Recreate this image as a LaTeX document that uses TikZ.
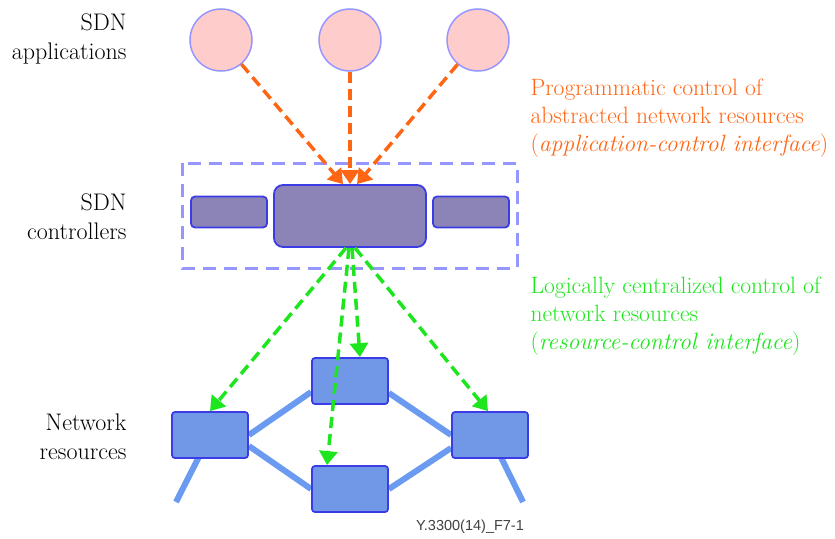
\documentclass[tikz,border=0pt]{standalone}
\usepackage{fontspec}
\newfontfamily\arialfont{Liberation Sans}
\usetikzlibrary{arrows.meta,backgrounds}

\definecolor{appfill}{RGB}{255,204,204}
\definecolor{lavender}{RGB}{150,150,255}
\definecolor{ctrlfill}{RGB}{140,132,182}
\definecolor{edgeblue}{RGB}{60,60,230}
\definecolor{resfill}{RGB}{112,152,230}
\definecolor{linkblue}{RGB}{106,155,240}
\definecolor{progorange}{RGB}{255,102,20}
\definecolor{ctrlgreen}{RGB}{30,230,30}

\begin{document}
\begin{tikzpicture}[x=1pt,y=-1pt,
  app/.style={circle, fill=appfill, draw=lavender, line width=1.5pt, minimum size=62pt, inner sep=0pt},
  ctrl/.style={rectangle, rounded corners=4pt, fill=ctrlfill, draw=edgeblue, line width=1.8pt, inner sep=0pt},
  res/.style={rectangle, rounded corners=3pt, fill=resfill, draw=edgeblue, line width=1.8pt, minimum width=76pt, minimum height=46pt, inner sep=0pt},
  link/.style={linkblue, line width=6pt},
  orangearrow/.style={progorange, line width=3.5pt, dash pattern=on 11pt off 6pt, -{Triangle[length=14pt,width=18pt]}},
  greenarrow/.style={ctrlgreen, line width=3.5pt, dash pattern=on 11pt off 6pt, -{Triangle[length=14pt,width=18pt]}},
  layer/.style={align=right, anchor=east, font=\rmfamily\fontsize{24}{29}\selectfont},
  note/.style={align=left, anchor=west, font=\rmfamily\fontsize{23.6}{28}\selectfont}]
 \useasboundingbox (0,0) rectangle (835,538);

 % layer labels
 \node (lapp) [layer] at (130,39) {SDN\\applications};
 \node (lctrl) [layer] at (130,217) {SDN\\controllers};
 \node (lres) [layer] at (130,437) {Network\\resources};

 % applications
 \node (a1) [app] at (221,40) {};
 \node (a2) [app] at (350,40) {};
 \node (a3) [app] at (478,40) {};

 % controllers
 \draw[lavender, line width=3pt, dash pattern=on 13pt off 8pt] (182,163) rectangle (517,268);
 \node (c0) [ctrl, rounded corners=9pt, minimum width=152pt, minimum height=62pt] at (350,216) {};
 \node (c1) [ctrl, minimum width=76pt, minimum height=31pt] at (229,212) {};
 \node (c2) [ctrl, minimum width=76pt, minimum height=31pt] at (471,212) {};

 % network resources
 \node (r1) [res] at (210,435) {};
 \node (r2) [res] at (350,381) {};
 \node (r3) [res] at (350,489) {};
 \node (r4) [res] at (490,435) {};
 \coordinate (tl) at (176,502);
 \coordinate (tr) at (523,502);
 \begin{scope}[on background layer]
   \draw[link] (r1.center) -- (tl);
   \draw[link] (r4.center) -- (tr);
   \draw[link] (r1.east) -- ([yshift=-11pt]r2.west);
   \draw[link] ([yshift=-11pt]r1.east) -- (r3.west);
   \draw[link] ([yshift=-12pt]r2.east) -- (r4.west);
   \draw[link] (r3.east) -- ([yshift=-13pt]r4.west);
 \end{scope}

 % interfaces
 \draw[orangearrow] (a1) -- ([xshift=-7pt]c0.north);
 \draw[orangearrow] (a2) -- (c0.north);
 \draw[orangearrow] (a3) -- ([xshift=7pt]c0.north);
 \draw[greenarrow] ([xshift=-4pt]c0.south) -- ([xshift=0pt]r1.north);
 \draw[greenarrow] ([xshift=2pt]c0.south) -- ([xshift=10pt]r2.north);
 \draw[greenarrow] ([xshift=-1pt]c0.south) -- ([xshift=-23pt]r3.north);
 \draw[greenarrow] ([xshift=5pt]c0.south) -- ([xshift=-2pt]r4.north);

 \node (napp) [note, text=progorange] at (527,118) {Programmatic control of\\abstracted network resources\\(\textit{application-control interface})};
 \node (nres) [note, text=ctrlgreen] at (527,316) {Logically centralized control of\\network resources\\(\textit{resource-control interface})};

 \node (fig) [font=\arialfont\fontsize{14.5}{16}\selectfont, text=black!75] at (470,527) {Y.3300(14)\_F7-1};
\end{tikzpicture}
\end{document}
